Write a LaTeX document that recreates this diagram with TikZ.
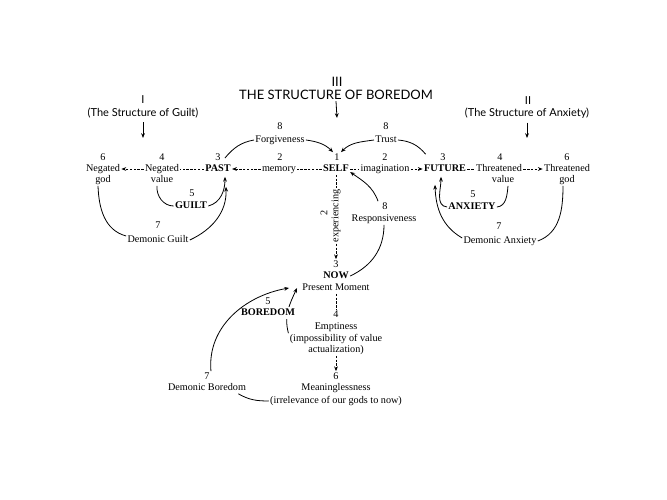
\documentclass[tikz,border=0pt]{standalone}
\usepackage{fontspec}
\setmainfont{Liberation Serif}
\newfontfamily\hsans{Lato}
\usetikzlibrary{arrows.meta,backgrounds}
\begin{document}
\begin{tikzpicture}[x=1pt,y=1pt,
  every node/.style={inner sep=1.2pt, font=\fontsize{10.2}{12}\selectfont},
  lbl/.style={text height=6.8pt,text depth=2pt},
  bl/.style={lbl,font=\fontsize{10.2}{12}\selectfont\bfseries},
  hd/.style={font=\hsans\fontsize{13}{15}\selectfont},
  sub/.style={font=\hsans\fontsize{11}{13}\selectfont},
  ln/.style={line width=0.8pt},
  dsh/.style={ln,dash pattern=on 2.4pt off 1.4pt},
  tip/.style={-{Stealth[length=4.8pt,width=3.8pt]}},
]
\useasboundingbox (0,0) rectangle (667,-500);
% headers
\node[hd] (rIII) at (337,-82) {III};
\node[hd] (title) at (336,-95) {THE STRUCTURE OF BOREDOM};
\coordinate (t3) at (337,-118);
\node[sub] (rI) at (143,-100) {I};
\node[sub] (hguilt) at (143,-113) {(The Structure of Guilt)};
\coordinate (t1) at (143,-138);
\node[sub] (rII) at (528,-101) {II};
\node[sub] (hanx) at (527,-113) {(The Structure of Anxiety)};
\coordinate (t2) at (527,-138);
% top row numbers
\node[lbl] (g6) at (103,-158) {6};
\node[lbl] (v4) at (162,-158) {4};
\node[lbl] (p3) at (218,-158) {3};
\node[lbl] (m2) at (280,-158) {2};
\node[lbl] (s1) at (337,-158) {1};
\node[lbl] (i2) at (385,-158) {2};
\node[lbl] (f3) at (443,-158) {3};
\node[lbl] (tv4) at (500,-158) {4};
\node[lbl] (tg6) at (567,-158) {6};
% top row labels
\node[lbl] (ngodA) at (103,-169) {Negated};
\node[lbl] (ngodB) at (103,-180) {god};
\node[lbl] (nvalA) at (162,-169) {Negated};
\node[lbl] (nvalB) at (162,-180) {value};
\node[bl] (past) at (218,-169) {PAST};
\node[lbl] (mem) at (279,-169) {memory};
\node[bl] (self) at (336,-169) {SELF};
\node[lbl] (imag) at (385,-169) {imagination};
\node[bl] (fut) at (445,-169) {FUTURE};
\node[lbl] (tvalA) at (499,-169) {Threatened};
\node[lbl] (tvalB) at (503,-180) {value};
\node[lbl] (tgodA) at (567,-169) {Threatened};
\node[lbl] (tgodB) at (567,-180) {god};
% forgiveness / trust
\node[lbl] (fo8) at (280,-127) {8};
\node[lbl] (forg) at (280,-140) {Forgiveness};
\node[lbl] (tr8) at (386,-127) {8};
\node[lbl] (trust) at (386,-140) {Trust};
% guilt
\node[lbl] (gu5) at (192,-194) {5};
\node[bl] (guilt) at (191,-206) {GUILT};
\node[lbl] (dg7) at (158,-226) {7};
\node[lbl] (dguilt) at (158,-240) {Demonic Guilt};
% anxiety
\node[lbl] (an5) at (473,-195) {5};
\node[bl] (anx) at (472,-207) {ANXIETY};
\node[lbl] (da7) at (499,-227) {7};
\node[lbl] (danx) at (500,-241) {Demonic Anxiety};
% responsiveness
\node[lbl] (r8) at (385,-207) {8};
\node[lbl] (resp) at (384,-219) {Responsiveness};
% experiencing
\node[lbl,rotate=90] (e2) at (325,-213) {2};
\node[lbl,rotate=90] (exper) at (336,-216) {experiencing};
% now column
\node[lbl] (n3) at (336,-265) {3};
\node[bl] (now) at (336,-276) {NOW};
\node[lbl] (pm) at (336,-288) {Present Moment};
\node[lbl] (e4) at (336,-315) {4};
\node[lbl] (emptA) at (336,-327) {Emptiness};
\node[lbl] (emptB) at (336,-339) {(impossibility of value};
\node[lbl] (emptC) at (336,-350) {actualization)};
\node[lbl] (m6) at (336,-377) {6};
\node[lbl] (meanA) at (336,-388) {Meaninglessness};
\node[lbl] (meanB) at (336,-401) {(irrelevance of our gods to now)};
% boredom
\node[lbl] (b5) at (268,-302) {5};
\node[bl,fill=white] (bored) at (268,-313) {BOREDOM};
\node[lbl] (b7) at (207,-377) {7};
\node[lbl] (dbor) at (207,-388) {Demonic Boredom};

\begin{scope}[on background layer]
\fill[white] (0,0) rectangle (667,-500);
\draw[ln,tip] (emptB.north west) to[out=105,in=-115] ([xshift=-4pt]pm.west);
\end{scope}

% header arrows
\draw[ln,tip] (title.south) -- (t3);
\draw[ln,tip,shorten <=3pt] (hguilt.south) -- (t1);
\draw[ln,tip,shorten <=3pt] (hanx.south) -- (t2);
% row dashes
\draw[dsh,tip] (mem.west) -- (past.east);
\draw[dsh] (self.west) -- (mem.east);
\draw[dsh] (past.west) -- (nvalA.east);
\draw[dsh,tip] (nvalA.west) -- (ngodA.east);
\draw[dsh] (self.east) -- (imag.west);
\draw[dsh,tip] (imag.east) -- (fut.west);
\draw[dsh] (fut.east) -- (tvalA.west);
\draw[dsh,tip] (tvalA.east) -- (tgodA.west);
% vertical dashes
\draw[dsh] (self.south) -- (exper.east);
\draw[dsh,tip] (exper.west) -- (n3.north);
\draw[dsh] (pm.south) -- (e4.north);
\draw[dsh,tip] (emptC.south) -- (m6.north);
% forgiveness / trust curves
\draw[ln] ([xshift=3pt]p3.east) to[out=50,in=190] (forg.west);
\draw[ln,tip] (forg.east) to[out=-8,in=135] (s1.north west);
\draw[ln,tip] (trust.west) to[out=188,in=45] (s1.north east);
\draw[ln] (trust.east) to[out=-5,in=130] ([shift={(3,9)}]fut.north west);
% responsiveness
\draw[ln,tip] ([xshift=-3pt]r8.north west) to[out=110,in=-35] ([yshift=-3pt]self.east);
\draw[ln] (resp.south) to[out=-90,in=25] (now.east);
% guilt
\draw[ln] ([xshift=-5pt]nvalB.south) to[out=-95,in=180] (guilt.west);
\draw[ln,tip] (guilt.east) to[out=15,in=-90] ([xshift=7pt,yshift=-2pt]past.south);
\draw[ln,tip] (dguilt.east) to[out=25,in=-88] ([xshift=8pt,yshift=-12pt]past.south);
\draw[ln] ([xshift=-5pt]ngodB.south) to[out=-88,in=165] ([yshift=4pt]dguilt.west);
% anxiety
\draw[ln,tip] (anx.west) to[out=175,in=-90] ([xshift=-4pt,yshift=-2pt]fut.south);
\draw[ln] ([xshift=5pt]tvalB.south) to[out=-95,in=5] (anx.east);
\draw[ln,tip] ([yshift=3pt]danx.west) to[out=150,in=-88] ([xshift=-10pt,yshift=-10pt]fut.south);
\draw[ln] (danx.east) to[out=20,in=-90] ([xshift=-4pt]tgodB.south);
% boredom
\draw[ln,tip] (b7.north east) to[out=95,in=190] ([xshift=-12pt]pm.west);
\draw[ln] ([xshift=-9pt]dbor.south east) to[out=-30,in=180] (meanB.west);
\end{tikzpicture}
\end{document}
